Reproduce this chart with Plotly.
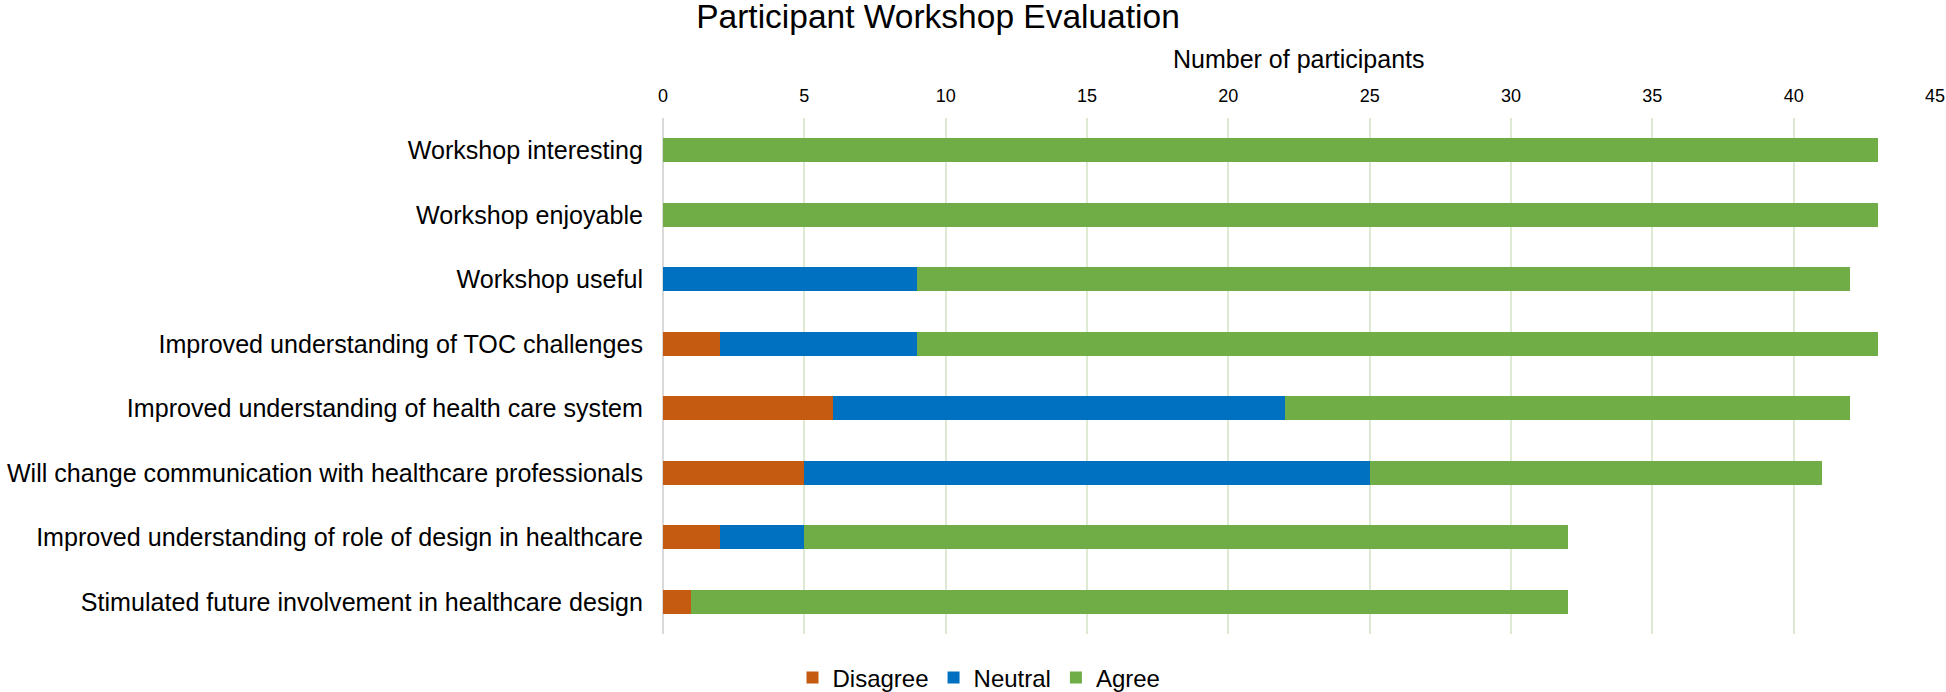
import plotly.graph_objects as go

categories = [
    "Workshop interesting",
    "Workshop enjoyable",
    "Workshop useful",
    "Improved understanding of TOC challenges",
    "Improved understanding of health care system",
    "Will change communication with healthcare professionals",
    "Improved understanding of role of design in healthcare",
    "Stimulated future involvement in healthcare design",
]
disagree = [0, 0, 0, 2, 6, 5, 2, 1]
neutral = [0, 0, 9, 7, 16, 20, 3, 0]
agree = [43, 43, 33, 34, 20, 16, 27, 31]

x_ticks = [0, 5, 10, 15, 20, 25, 30, 35, 40, 45]

FONT = "Liberation Sans, Arial, Helvetica, sans-serif"

fig = go.Figure()
for name, vals, color in [
    ("Disagree", disagree, "#C55A11"),
    ("Neutral", neutral, "#0070C0"),
    ("Agree", agree, "#70AD47"),
]:
    fig.add_trace(go.Bar(
        y=categories, x=vals, name=name, orientation="h",
        marker=dict(color=color, line=dict(width=0)),
    ))

W, H = 1946, 692
L, R, T, B = 663, 11, 118, 58
plot_h = H - T - B
plot_w = W - L - R

fig.update_layout(
    width=W, height=H,
    barmode="stack",
    bargap=0.634,
    plot_bgcolor="white",
    paper_bgcolor="white",
    font=dict(family=FONT, color="black"),
    margin=dict(l=L, r=R, t=T, b=B, autoexpand=False),
    title=dict(
        text="Participant Workshop Evaluation",
        font=dict(size=33.5, family=FONT, color="black"),
        x=938 / W, xref="container", xanchor="center",
        y=1 - 16 / H, yref="container", yanchor="middle",
        pad=dict(t=0, b=0, l=0, r=0),
    ),
    xaxis=dict(
        side="top", range=[0, 45], tickvals=x_ticks,
        showgrid=True, gridcolor="#dde9d3", gridwidth=2,
        zeroline=True, zerolinecolor="#d9d9d9", zerolinewidth=2,
        tickfont=dict(size=18, family=FONT, color="black"),
        ticks="outside", ticklen=8, tickcolor="rgba(0,0,0,0)",
        ticklabeloverflow="allow",
        showline=False, fixedrange=True,
    ),
    yaxis=dict(
        autorange="reversed",
        tickfont=dict(size=25.1, family=FONT, color="black"),
        ticks="outside", ticklen=14, tickcolor="rgba(0,0,0,0)",
        showgrid=False, showline=False,
    ),
    legend=dict(
        orientation="h",
        x=(979 - L) / plot_w, xanchor="center",
        y=-(678 - (H - B)) / plot_h, yanchor="middle",
        font=dict(size=24, family=FONT, color="black"),
        itemwidth=30,
        traceorder="normal",
    ),
    annotations=[dict(
        text="Number of participants", x=0.5, xref="paper", xanchor="center",
        y=1 + (T - 59) / plot_h, yref="paper", yanchor="middle",
        showarrow=False, font=dict(size=25, family=FONT, color="black"),
    )],
)

# remove the default page margin so the figure fills the window exactly
fig.write_html(
    "out.html",
    config={"displayModeBar": False},
    post_script="document.body.style.margin='0';",
)
